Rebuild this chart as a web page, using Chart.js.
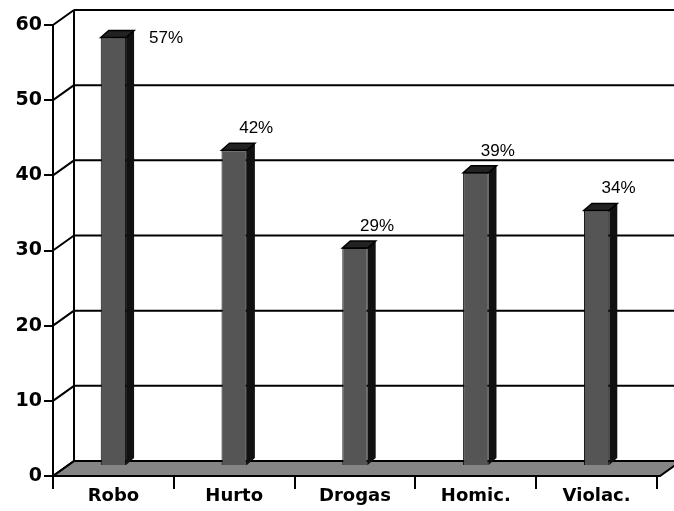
<!DOCTYPE html>
<html>
<head>
<meta charset="utf-8">
<script src="https://cdn.jsdelivr.net/npm/chart.js@4.4.1/dist/chart.umd.min.js"></script>
<style>
  html, body { margin: 0; padding: 0; background: #fff; }
  #wrap { width: 674px; height: 511px; }
</style>
</head>
<body>
<div id="wrap"><canvas id="graphique" width="674" height="511"></canvas></div>
<script>
// donnees
var categories = ['Robo', 'Hurto', 'Drogas', 'Homic.', 'Violac.'];
var valeurs = [57, 42, 29, 39, 34];
var etiquettes = ['57%', '42%', '29%', '39%', '34%'];
var yTicks = [0, 10, 20, 30, 40, 50, 60];

// profondeur du faux 3D
var DX = 21, DY = -15;
var BAR_DY = -10; // les barres sont posees vers le fond du sol

var effet3D = {
    id: 'effet3D',
    beforeDatasetsDraw: function(chart) {
        var ctx = chart.ctx;
        var a = chart.chartArea;
        var yS = chart.scales.y;
        ctx.save();
        // sol
        ctx.beginPath();
        ctx.moveTo(a.left, a.bottom);
        ctx.lineTo(a.right + 3, a.bottom);
        ctx.lineTo(a.right + 3 + DX, a.bottom + DY);
        ctx.lineTo(a.left + DX, a.bottom + DY);
        ctx.closePath();
        ctx.fillStyle = '#858585';
        ctx.fill();
        ctx.lineWidth = 2;
        ctx.strokeStyle = '#000';
        ctx.stroke();

        // mur du fond + lignes de grille
        ctx.lineWidth = 2;
        ctx.beginPath();
        for (var i = 0; i < yTicks.length; i++) {
            var y = yS.getPixelForValue(yTicks[i]);
            ctx.moveTo(a.left, y);
            ctx.lineTo(a.left + DX, y + DY);
            if (yTicks[i] > 0) {
                ctx.moveTo(a.left + DX, y + DY);
                ctx.lineTo(chart.width, y + DY);
            }
        }
        ctx.moveTo(a.left + DX, a.top + DY);
        ctx.lineTo(a.left + DX, a.bottom + DY);
        ctx.stroke();
        ctx.restore();

        // decalage des barres (reste actif jusqu'a afterDatasetsDraw)
        ctx.save();
        ctx.translate(0, BAR_DY);
    },
    afterDatasetsDraw: function(chart) {
        var ctx = chart.ctx;
        var a = chart.chartArea;
        var meta = chart.getDatasetMeta(0);
        var sx = 8, sy = -7;
        meta.data.forEach(function(bar, i) {
            var l = bar.x - bar.width / 2;
            var r = bar.x + bar.width / 2;
            // face laterale
            ctx.beginPath();
            ctx.moveTo(r, bar.y);
            ctx.lineTo(r + sx, bar.y + sy);
            ctx.lineTo(r + sx, bar.base + sy);
            ctx.lineTo(r, bar.base);
            ctx.closePath();
            ctx.fillStyle = '#111';
            ctx.fill();
            // dessus
            ctx.beginPath();
            ctx.moveTo(l, bar.y);
            ctx.lineTo(l + sx, bar.y + sy);
            ctx.lineTo(r + sx, bar.y + sy);
            ctx.lineTo(r, bar.y);
            ctx.closePath();
            ctx.fillStyle = '#222';
            ctx.fill();
            ctx.strokeStyle = '#000';
            ctx.lineWidth = 1.5;
            ctx.stroke();

            // etiquette de valeur
            ctx.fillStyle = '#000';
            ctx.font = '17px "Liberation Sans", Arial, sans-serif';
            ctx.textAlign = 'center';
            ctx.textBaseline = 'middle';
            var tx = bar.x + 22, ty = bar.y - 22;
            if (ty + BAR_DY < a.top + 5) {
                tx = r + 40;
                ty = bar.y + 1;
            }
            ctx.fillText(etiquettes[i], tx, ty);
        });
        ctx.restore();
    }
};

var ctx = document.getElementById('graphique').getContext('2d');
var myChart = new Chart(ctx, {
    type: 'bar',
    data: {
        labels: categories,
        datasets: [{
            data: valeurs,
            backgroundColor: '#555555',
            borderColor: '#000',
            borderWidth: 1,
            barPercentage: 0.42,
            categoryPercentage: 0.5
        }]
    },
    options: {
        responsive: false,
        animation: false,
        layout: { padding: { top: 25, right: 17, left: 0, bottom: 0 } },
        plugins: {
            legend: { display: false },
            tooltip: { enabled: false }
        },
        scales: {
            x: {
                grid: {
                    offset: true,
                    drawOnChartArea: false,
                    drawTicks: true,
                    tickLength: 13,
                    color: '#000',
                    lineWidth: 2
                },
                border: { display: true, color: '#000', width: 2 },
                ticks: {
                    color: '#000',
                    padding: -3,
                    font: { family: '"DejaVu Sans", sans-serif', size: 18, weight: 'bold' }
                },
                afterFit: function(scale) { scale.height = 35; }
            },
            y: {
                min: 0,
                max: 60,
                ticks: {
                    stepSize: 10,
                    color: '#000',
                    padding: 2,
                    font: { family: '"DejaVu Sans", sans-serif', size: 19, weight: 'bold' }
                },
                grid: {
                    drawOnChartArea: false,
                    drawTicks: true,
                    tickLength: 9,
                    color: '#000',
                    lineWidth: 2
                },
                border: { display: true, color: '#000', width: 2 },
                afterFit: function(scale) { scale.width = 53; }
            }
        }
    },
    plugins: [effet3D]
});
</script>
</body>
</html>
